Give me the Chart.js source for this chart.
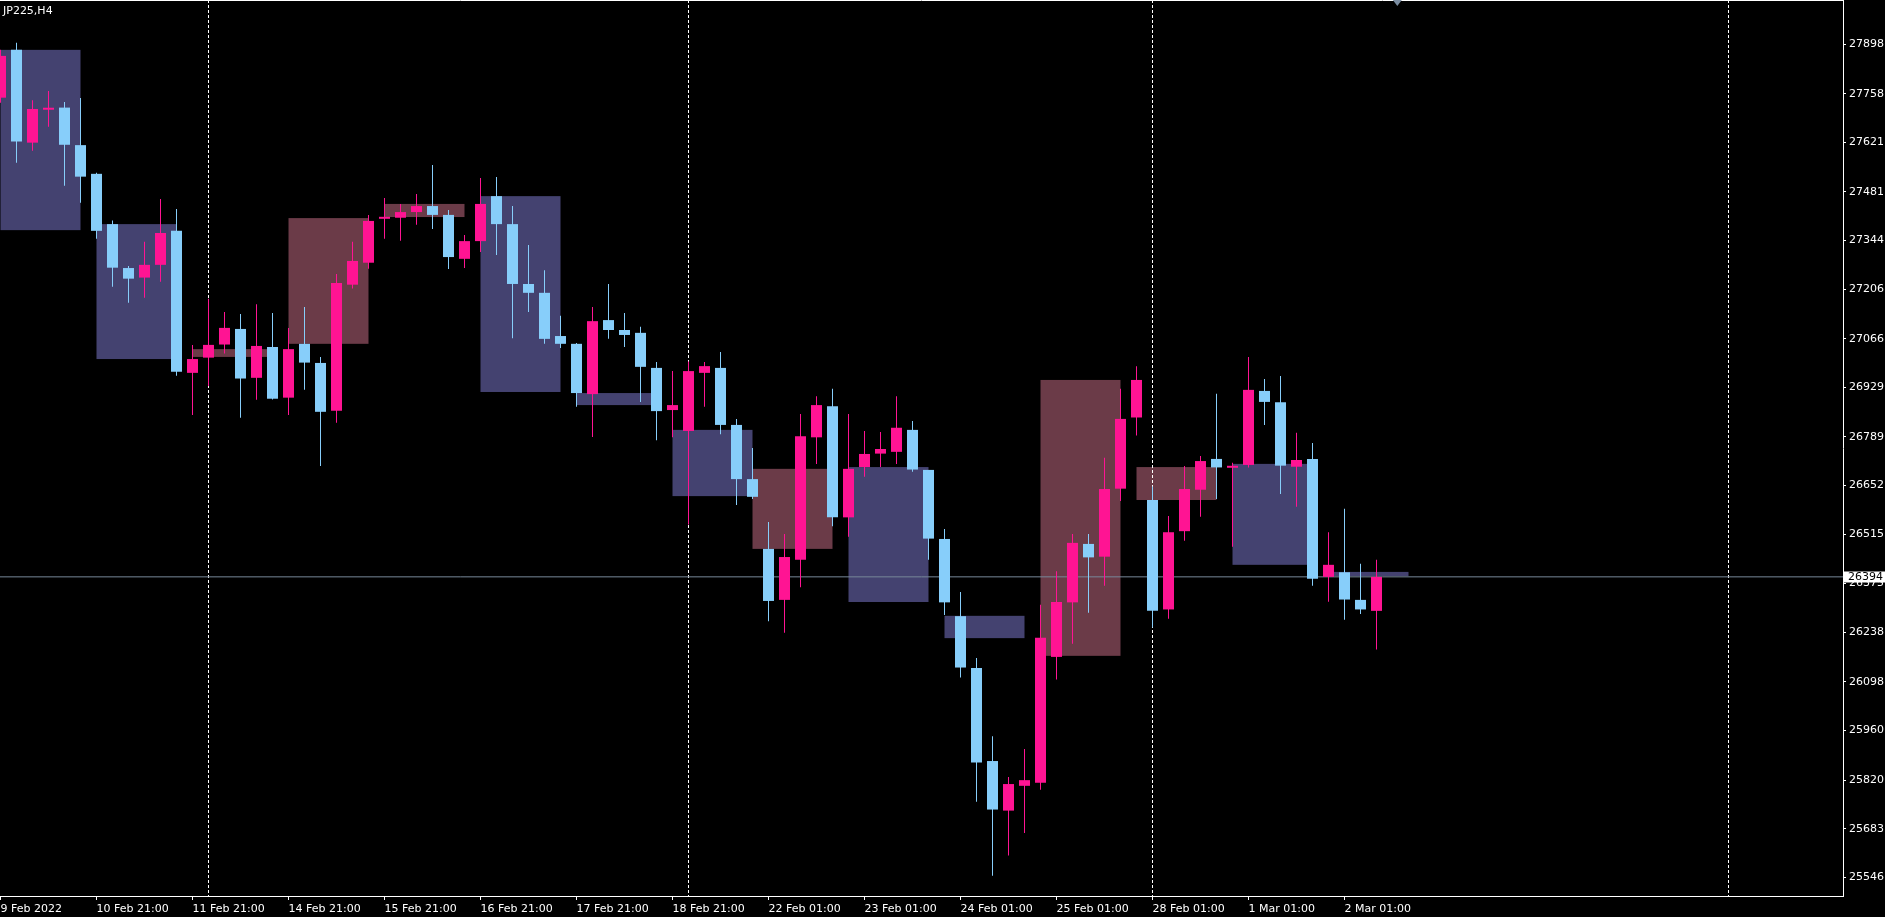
<!DOCTYPE html>
<html lang="en">
<head>
<meta charset="UTF-8">
<title>JP225,H4</title>
<script src="https://cdn.jsdelivr.net/npm/chart.js@4.4.1/dist/chart.umd.min.js"></script>
<style>
    html, body { margin: 0; padding: 0; background: #000; overflow: hidden; }
    #wrap { position: relative; width: 1885px; height: 917px; }
</style>
</head>
<body>
<div id="wrap"><canvas id="chart"></canvas></div>
<script>
// H4 candles, 9 Feb 2022 -> 2 Mar 2022
const opens  = [27747,27882,27620,27713,27719,27613,27532,27390,27266,27239,27275,27371,26970,27013,27050,27094,26956,27043,26900,27052,
                26998,26863,27219,27281,27405,27408,27424,27441,27416,27292,27342,27469,27390,27221,27196,27074,27052,26910,27119,27091,
                27083,26984,26865,26806,26970,26984,26823,26670,26473,26329,26442,26788,26876,26562,26704,26742,26747,26809,26696,26501,
                26283,26137,25874,25734,25804,25813,26168,26322,26487,26451,26643,26844,26611,26302,26523,26640,26727,26702,26710,26919,
                26887,26705,26727,26394,26407,26329,26298];
const highs  = [27882,27902,27740,27766,27735,27746,27535,27400,27272,27340,27461,27433,27049,27179,27142,27136,27164,27139,27097,27156,
                27015,27249,27340,27416,27464,27447,27475,27557,27430,27359,27520,27523,27441,27331,27260,27131,27054,27156,27221,27139,
                27100,27001,26975,27002,27001,27029,26840,26758,26549,26515,26854,26904,26925,26854,26806,26803,26904,26834,26696,26529,
                26351,26165,25944,25829,25908,26315,26410,26515,26515,26730,26925,26989,26649,26566,26707,26735,26911,26716,27015,26953,
                26961,26801,26772,26520,26586,26431,26442];
const lows   = [27733,27563,27597,27665,27498,27450,27349,27213,27168,27182,27227,26962,26851,26933,27025,26843,26894,26895,26851,26922,
                26707,26829,27208,27264,27349,27343,27388,27376,27263,27266,27311,27303,27068,27142,27052,27040,26874,26789,27066,27043,
                26888,26780,26788,26542,26874,26797,26597,26614,26269,26236,26365,26713,26537,26507,26677,26704,26713,26691,26442,26286,
                26110,25759,25550,25607,25671,25793,26104,26205,26293,26369,26608,26793,26251,26276,26496,26564,26614,26479,26703,26823,
                26628,26592,26369,26324,26273,26289,26189];
const closes = [27865,27623,27715,27713,27614,27524,27371,27267,27236,27275,27365,26973,27009,27049,27097,26954,27046,26897,27037,26999,
                26860,27224,27286,27399,27405,27424,27441,27416,27297,27342,27447,27390,27221,27196,27066,27052,26913,27116,27091,27077,
                26987,26862,26879,26975,26989,26823,26670,26620,26326,26450,26791,26879,26562,26699,26741,26755,26815,26697,26502,26322,
                26138,25870,25737,25809,25820,26222,26323,26490,26449,26642,26840,26950,26298,26520,26642,26721,26703,26702,26922,26888,
                26708,26724,26389,26428,26330,26302,26394];

// time axis labels (one every 6 bars)
const xTickIdx = [0, 6, 12, 18, 24, 30, 36, 42, 48, 54, 60, 66, 72, 78, 84];
const xLabels = ['9 Feb 2022', '10 Feb 21:00', '11 Feb 21:00', '14 Feb 21:00', '15 Feb 21:00', '16 Feb 21:00',
                 '17 Feb 21:00', '18 Feb 21:00', '22 Feb 01:00', '23 Feb 01:00', '24 Feb 01:00', '25 Feb 01:00',
                 '28 Feb 01:00', '1 Mar 01:00', '2 Mar 01:00'];
const yTicks = [27898, 27758, 27621, 27481, 27344, 27206, 27066, 26929, 26789, 26652, 26515, 26375,
                26238, 26098, 25960, 25820, 25683, 25546];

// week separators (bar index)
const separators = [13, 43, 72, 108];

// rectangles drawn on the chart
const zoneFrom = [0, 6, 12, 18, 24, 30, 36, 42, 47, 53, 59, 65, 71, 77, 83];
const zoneTo   = [5, 11, 17, 23, 29, 35, 41, 47, 52, 58, 64, 70, 76, 82, 88];
const zoneHigh = [27882, 27390, 27037, 27407, 27447, 27469, 26913, 26809, 26699, 26704, 26284, 26950, 26704, 26713, 26408];
const zoneLow  = [27373, 27009, 27015, 27052, 27410, 26916, 26879, 26622, 26473, 26323, 26221, 26171, 26611, 26428, 26396];
const zoneKind = ['dn', 'dn', 'up', 'up', 'up', 'dn', 'dn', 'dn', 'up', 'dn', 'dn', 'up', 'up', 'dn', 'dn'];

const bidPrice = 26394;

const UP = '#FF1493';
const DOWN = '#87CEFA';
const FONT = { family: 'DejaVu Sans', size: 11 };

const idx = opens.map((_, i) => i);
const colors = idx.map(i => closes[i] >= opens[i] ? UP : DOWN);

const mt4Plugin = {
    id: 'mt4',
    beforeDatasetsDraw(chart) {
        const { ctx, chartArea: a, scales: { x, y } } = chart;
        ctx.save();
        ctx.beginPath();
        ctx.rect(a.left, a.top, a.right - a.left, a.bottom - a.top);
        ctx.clip();

        // zones
        zoneFrom.forEach((f, k) => {
            const x0 = x.getPixelForValue(f);
            const x1 = x.getPixelForValue(zoneTo[k]);
            const y0 = y.getPixelForValue(zoneHigh[k]);
            const y1 = y.getPixelForValue(zoneLow[k]);
            ctx.fillStyle = zoneKind[k] === 'up' ? '#6B3B48' : '#444270';
            ctx.fillRect(x0, y0, x1 - x0, y1 - y0);
        });

        // period separators
        ctx.strokeStyle = '#FFFFFF';
        ctx.lineWidth = 1;
        ctx.setLineDash([3, 2]);
        separators.forEach(s => {
            const px = x.getPixelForValue(s);
            ctx.beginPath();
            ctx.moveTo(px, a.top);
            ctx.lineTo(px, a.bottom);
            ctx.stroke();
        });
        ctx.setLineDash([]);

        // bid line
        const py = y.getPixelForValue(bidPrice);
        ctx.strokeStyle = '#778899';
        ctx.beginPath();
        ctx.moveTo(a.left, py);
        ctx.lineTo(a.right, py);
        ctx.stroke();
        ctx.restore();
    },
    afterDraw(chart) {
        const { ctx, chartArea: a, scales: { x, y } } = chart;
        ctx.save();
        // top frame line
        ctx.strokeStyle = '#FFFFFF';
        ctx.lineWidth = 1;
        ctx.beginPath();
        ctx.moveTo(a.left, 0.5);
        ctx.lineTo(a.right, 0.5);
        ctx.stroke();

        // symbol / timeframe
        ctx.font = '11px "DejaVu Sans"';
        ctx.textBaseline = 'middle';
        ctx.fillStyle = '#FFFFFF';
        ctx.fillText('JP225,H4', 3, 11);

        // chart shift marker
        const sx = x.getPixelForValue(87.3);
        ctx.fillStyle = '#7A8CA0';
        ctx.beginPath();
        ctx.moveTo(sx - 4.5, 0);
        ctx.lineTo(sx + 4.5, 0);
        ctx.lineTo(sx, 6);
        ctx.closePath();
        ctx.fill();

        // bid price label
        const py = y.getPixelForValue(bidPrice);
        ctx.fillStyle = '#FFFFFF';
        ctx.fillRect(a.right, Math.round(py) - 5.5, chart.width - a.right, 11);
        ctx.fillStyle = '#000000';
        ctx.fillText(String(bidPrice), a.right + 5, py);
        ctx.restore();
    }
};

// pixel 0.5 + 16 * bar index, plot area 0..1843 x 0..896
const xMin = -0.5 / 16;
const xMax = (1843 - 0.5) / 16;
const yMax = 28022.8;
const yMin = 25492.9;

function noPad(s) {
    s.paddingTop = 0;
    s.paddingBottom = 0;
    s.paddingLeft = 0;
    s.paddingRight = 0;
}

new Chart(document.getElementById('chart'), {
    type: 'bar',
    data: {
        datasets: [
            {
                label: 'wick',
                data: idx.map(i => ({ x: i, y: [lows[i], highs[i]] })),
                backgroundColor: colors,
                barThickness: 1,
                grouped: false,
                inflateAmount: 0,
                order: 2
            },
            {
                label: 'body',
                data: idx.map(i => ({ x: i, y: [opens[i], closes[i]] })),
                backgroundColor: colors,
                barThickness: 11,
                minBarLength: 2,
                grouped: false,
                inflateAmount: 0,
                order: 1
            }
        ]
    },
    options: {
        responsive: true,
        maintainAspectRatio: false,
        animation: false,
        devicePixelRatio: 1,
        layout: { padding: 0 },
        plugins: { legend: { display: false }, tooltip: { enabled: false } },
        scales: {
            x: {
                type: 'linear',
                min: xMin,
                max: xMax,
                offset: false,
                bounds: 'data',
                afterBuildTicks: s => { s.ticks = xTickIdx.map(v => ({ value: v })); },
                afterFit: s => { s.height = 21; noPad(s); },
                grid: { drawOnChartArea: false, drawTicks: true, tickLength: 4, color: '#FFFFFF', offset: false },
                border: { display: true, color: '#FFFFFF', width: 1 },
                ticks: {
                    autoSkip: false,
                    maxRotation: 0,
                    minRotation: 0,
                    align: 'start',
                    padding: 3,
                    color: '#FFFFFF',
                    font: FONT,
                    callback: v => xLabels[xTickIdx.indexOf(v)]
                }
            },
            y: {
                type: 'linear',
                position: 'right',
                min: yMin,
                max: yMax,
                bounds: 'data',
                afterBuildTicks: s => { s.ticks = yTicks.map(v => ({ value: v })); },
                afterFit: s => { s.width = 42; noPad(s); },
                grid: { drawOnChartArea: false, drawTicks: true, tickLength: 3, color: '#FFFFFF' },
                border: { display: true, color: '#FFFFFF', width: 1 },
                ticks: {
                    autoSkip: false,
                    padding: 3,
                    color: '#FFFFFF',
                    font: FONT,
                    callback: v => String(v)
                }
            }
        }
    },
    plugins: [mt4Plugin]
});
</script>
</body>
</html>
